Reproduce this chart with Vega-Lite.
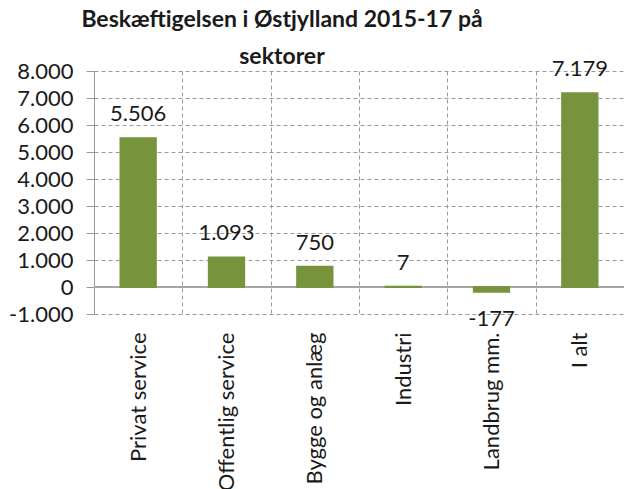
{
  "$schema": "https://vega.github.io/schema/vega-lite/v6.json",
  "autosize": "none",
  "width": 530,
  "height": 243,
  "padding": {"left": 94, "top": 71, "right": 0, "bottom": 175},
  "background": "white",
  "title": {
    "text": ["Beskæftigelsen i Østjylland 2015-17 på", "sektorer"],
    "font": "Lato",
    "fontSize": 23,
    "fontWeight": "bold",
    "color": "#1a1a1a",
    "lineHeight": 37,
    "anchor": "middle",
    "frame": "group",
    "dx": -77,
    "offset": -11
  },
  "data": {
    "values": [
      {"sektor": "Privat service", "value": 5506},
      {"sektor": "Offentlig service", "value": 1093},
      {"sektor": "Bygge og anlæg", "value": 750},
      {"sektor": "Industri", "value": 7},
      {"sektor": "Landbrug mm.", "value": -177},
      {"sektor": "I alt", "value": 7179}
    ]
  },
  "encoding": {
    "x": {
      "field": "sektor",
      "type": "nominal",
      "sort": null,
      "scale": {"paddingInner": 0, "paddingOuter": 0},
      "axis": {
        "title": null,
        "domain": false,
        "ticks": false,
        "grid": true,
        "tickBand": "extent",
        "gridDash": [4, 3],
        "gridColor": "#9A9A9A",
        "labelAngle": -90,
        "labelAlign": "right",
        "labelBaseline": "middle",
        "labelPadding": 18,
        "labelFont": "Lato",
        "labelFontSize": 22,
        "labelColor": "#1a1a1a"
      }
    },
    "y": {
      "field": "value",
      "type": "quantitative",
      "scale": {"domain": [-1000, 8000], "nice": false, "zero": false},
      "axis": {
        "title": null,
        "values": [-1000, 0, 1000, 2000, 3000, 4000, 5000, 6000, 7000, 8000],
        "format": ",.0f",
        "domain": true,
        "domainColor": "#9A9A9A",
        "ticks": true,
        "tickSize": 8,
        "tickColor": "#9A9A9A",
        "grid": true,
        "gridDash": [4, 3],
        "gridColor": "#9A9A9A",
        "labelPadding": 13,
        "labelFont": "Lato",
        "labelFontSize": 22,
        "labelColor": "#1a1a1a"
      }
    }
  },
  "layer": [
    {
      "mark": {"type": "rule", "color": "#A6A6A6", "strokeWidth": 1.5},
      "encoding": {"x": {"value": 0}, "x2": {"value": 530}, "y": {"datum": 0}}
    },
    {
      "mark": {"type": "bar", "width": {"band": 0.4}, "color": "#77933C", "stroke": "#77933C", "strokeWidth": 2}
    },
    {
      "transform": [{"filter": "datum.value >= 0"}],
      "mark": {"type": "text", "baseline": "alphabetic", "dy": -17, "font": "Lato", "fontSize": 22, "color": "#1a1a1a"},
      "encoding": {"text": {"field": "value", "type": "quantitative", "format": ",.0f"}}
    },
    {
      "transform": [{"filter": "datum.value < 0"}],
      "mark": {"type": "text", "baseline": "top", "dy": 17, "font": "Lato", "fontSize": 22, "color": "#1a1a1a"},
      "encoding": {"text": {"field": "value", "type": "quantitative", "format": ",.0f"}}
    }
  ],
  "config": {
    "view": {"stroke": null},
    "locale": {
      "number": {
        "decimal": ",",
        "thousands": ".",
        "grouping": [3],
        "currency": ["", " kr."],
        "minus": "-"
      }
    }
  }
}
